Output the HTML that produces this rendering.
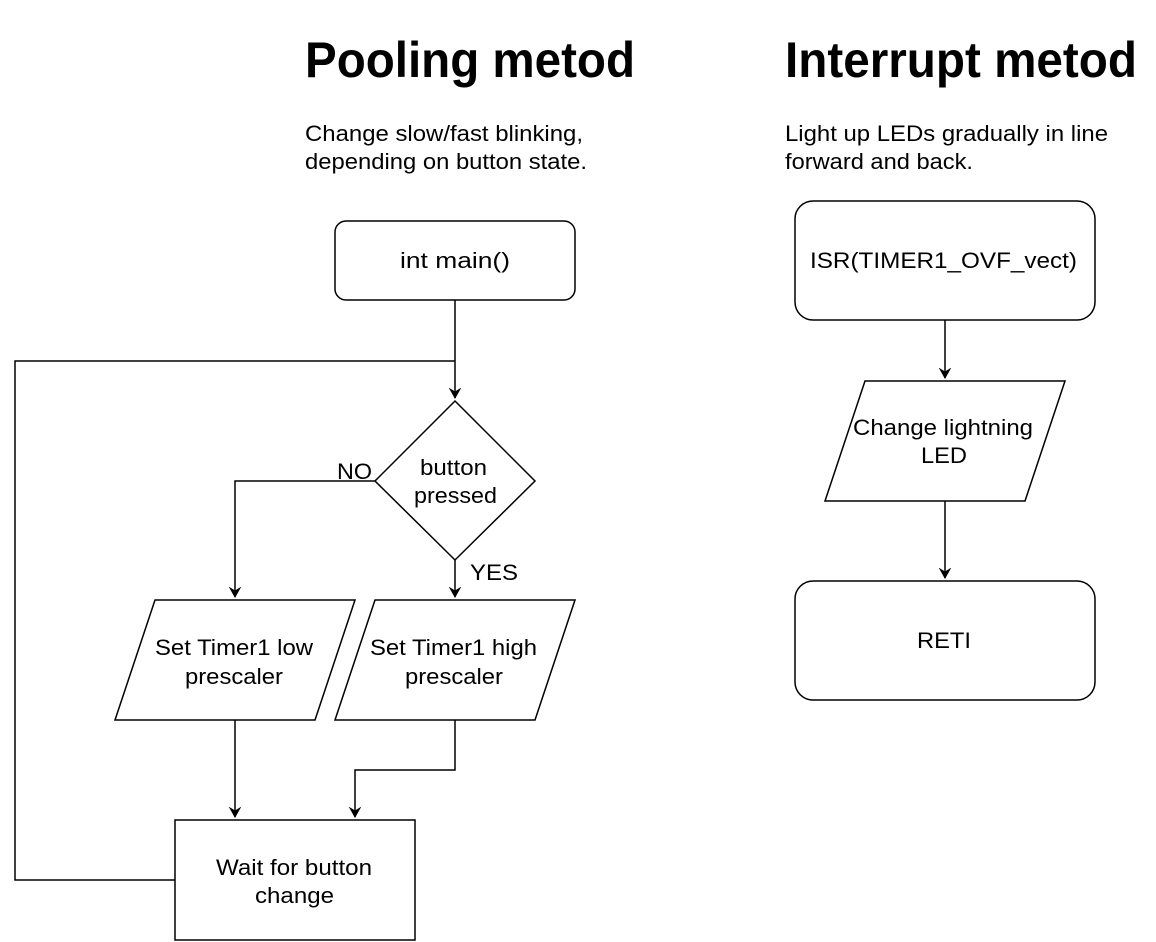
<!DOCTYPE html>
<html><head><meta charset="utf-8"><style>
html,body{margin:0;padding:0;background:#fff;}
svg{display:block;}
text{font-family:"Liberation Sans",Helvetica,Arial,sans-serif;fill:#000;}
</style></head><body>
<svg width="1156" height="942" viewBox="0 0 1156 942" xmlns="http://www.w3.org/2000/svg">
<defs>
<marker id="a" markerWidth="12" markerHeight="12" refX="10" refY="6" orient="auto" markerUnits="userSpaceOnUse">
<path d="M1,1 L10,6 L1,11 L4,6 Z" fill="#000" stroke="#000" stroke-width="1"/>
</marker>
</defs>
<g stroke="#000" stroke-width="1.5" fill="none">
<text x="305" y="77" font-size="50" font-weight="bold" textLength="330" lengthAdjust="spacingAndGlyphs" stroke="none">Pooling metod</text>
<text x="785" y="77" font-size="50" font-weight="bold" textLength="352" lengthAdjust="spacingAndGlyphs" stroke="none">Interrupt metod</text>
<text x="305" y="141" font-size="22" textLength="278" lengthAdjust="spacingAndGlyphs" stroke="none">Change slow/fast blinking,</text>
<text x="305" y="169" font-size="22" textLength="282" lengthAdjust="spacingAndGlyphs" stroke="none">depending on button state.</text>
<text x="785" y="141" font-size="22" textLength="323" lengthAdjust="spacingAndGlyphs" stroke="none">Light up LEDs gradually in line</text>
<text x="785" y="169" font-size="22" textLength="188" lengthAdjust="spacingAndGlyphs" stroke="none">forward and back.</text>

<rect x="335" y="221" width="240" height="79" rx="11" fill="#fff"/>
<text x="400" y="268" font-size="22" textLength="110" lengthAdjust="spacingAndGlyphs" stroke="none">int main()</text>
<path d="M455,300 V398" marker-end="url(#a)"/>
<path d="M175,880 H15 V361 H455"/>

<path d="M455,401 L535,481 L455,560 L375,481 Z" fill="#fff"/>
<text x="420" y="475" font-size="22" textLength="67" lengthAdjust="spacingAndGlyphs" stroke="none">button</text>
<text x="414" y="503" font-size="22" textLength="83" lengthAdjust="spacingAndGlyphs" stroke="none">pressed</text>
<path d="M375,481 H235 V597" marker-end="url(#a)"/>
<text x="337" y="479" font-size="22" textLength="35" lengthAdjust="spacingAndGlyphs" stroke="none">NO</text>
<path d="M455,560 V597" marker-end="url(#a)"/>
<text x="470" y="580" font-size="22" textLength="48" lengthAdjust="spacingAndGlyphs" stroke="none">YES</text>

<path d="M155,600 H355 L315,720 H115 Z" fill="#fff"/>
<text x="155" y="655" font-size="22" textLength="158" lengthAdjust="spacingAndGlyphs" stroke="none">Set Timer1 low</text>
<text x="185" y="684" font-size="22" textLength="98" lengthAdjust="spacingAndGlyphs" stroke="none">prescaler</text>
<path d="M375,600 H575 L535,720 H335 Z" fill="#fff"/>
<text x="370" y="655" font-size="22" textLength="167" lengthAdjust="spacingAndGlyphs" stroke="none">Set Timer1 high</text>
<text x="405" y="684" font-size="22" textLength="98" lengthAdjust="spacingAndGlyphs" stroke="none">prescaler</text>

<path d="M235,720 V817" marker-end="url(#a)"/>
<path d="M455,720 V770 H355 V817" marker-end="url(#a)"/>

<rect x="175" y="820" width="240" height="120" fill="#fff"/>
<text x="216" y="875" font-size="22" textLength="156" lengthAdjust="spacingAndGlyphs" stroke="none">Wait for button</text>
<text x="255" y="903" font-size="22" textLength="79" lengthAdjust="spacingAndGlyphs" stroke="none">change</text>

<rect x="795" y="201" width="300" height="119" rx="18" fill="#fff"/>
<text x="810" y="268" font-size="22" textLength="267" lengthAdjust="spacingAndGlyphs" stroke="none">ISR(TIMER1_OVF_vect)</text>
<path d="M945,320 V378" marker-end="url(#a)"/>
<path d="M865,381 H1065 L1025,501 H825 Z" fill="#fff"/>
<text x="853" y="435" font-size="22" textLength="180" lengthAdjust="spacingAndGlyphs" stroke="none">Change lightning</text>
<text x="921" y="463" font-size="22" textLength="46" lengthAdjust="spacingAndGlyphs" stroke="none">LED</text>
<path d="M945,501 V578" marker-end="url(#a)"/>
<rect x="795" y="581" width="300" height="119" rx="18" fill="#fff"/>
<text x="917" y="648" font-size="22" textLength="54" lengthAdjust="spacingAndGlyphs" stroke="none">RETI</text>
</g>
</svg>
</body></html>
